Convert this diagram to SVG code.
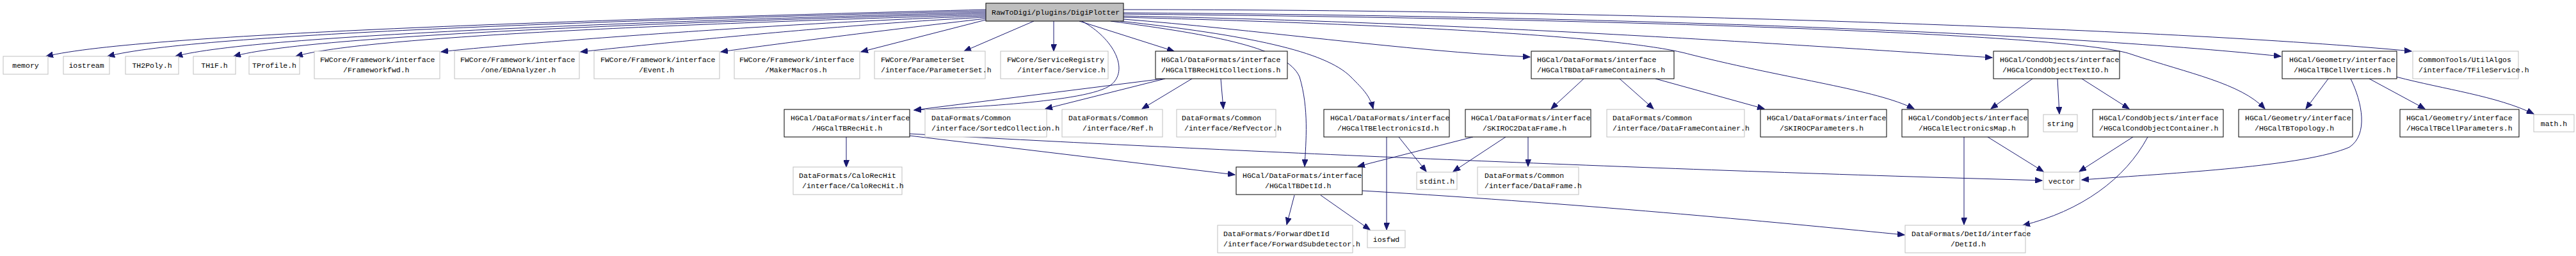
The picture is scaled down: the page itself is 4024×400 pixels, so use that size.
<svg xmlns="http://www.w3.org/2000/svg" width="4024" height="400" viewBox="0 0 4024 400">
<style>
rect{fill:#fff;stroke:#bfbfbf;stroke-width:1}
.b rect{stroke:#000}
.root rect{fill:#bfbfbf;stroke:#000}
text{font-family:"Liberation Mono","DejaVu Sans Mono",monospace;font-size:11.5px;fill:#000}
.c{text-anchor:middle}
#edges path{fill:none;stroke:#191970;stroke-width:1;marker-end:url(#a)}
</style>
<defs>
<marker id="a" markerUnits="userSpaceOnUse" markerWidth="12" markerHeight="9" refX="11" refY="4.5" orient="auto"><path d="M0,0 L11,4.5 L0,9 z" fill="#191970" stroke="#191970" stroke-width="1"/></marker>
</defs>
<rect x="0" y="0" width="4024" height="400" style="fill:#fff;stroke:none"/>
<g id="edges">
<path d="M1540,15 C953,30 219,52 72,88"/>
<path d="M1540,17 C991,31 305,52 168,88"/>
<path d="M1540,19 C1034,33 401,54 274,88"/>
<path d="M1540,21 C1070,34 483,55 365,88"/>
<path d="M1540,23 C1109,36 570,56 462,88"/>
<path d="M1540,25 C1200,36 760,72 689,81"/>
<path d="M1540,27 C1320,37 970,74 907,81"/>
<path d="M1540,29 C1400,45 1200,70 1126,81"/>
<path d="M1540,31 L1345,81"/>
<path d="M1615,33 L1506,80"/>
<path d="M1646,33 L1646,80"/>
<path d="M1686,33 L1834,80"/>
<path d="M1690,33 C1740,60 1765,110 1735,133 C1700,160 1500,168 1428,172"/>
<path d="M1735,33 C1900,55 2010,75 2030,120 C2045,170 2040,220 2038,260"/>
<path d="M1750,33 C1950,55 2070,80 2110,120 C2130,140 2140,150 2145,170"/>
<path d="M1755,30 C1950,45 2200,80 2390,89"/>
<path d="M1755,27 C2250,40 2550,60 2640,85 C2800,125 2930,140 2990,170"/>
<path d="M1755,25 C2300,35 2800,70 3112,90"/>
<path d="M1755,22 C2600,30 3250,55 3330,85 C3420,115 3500,130 3538,170"/>
<path d="M1755,20 C2500,25 3200,50 3563,88"/>
<path d="M1755,15 C2500,15 3400,45 3767,80"/>
<path d="M1817,123 L1428,172"/>
<path d="M1820,123 L1633,170"/>
<path d="M1862,123 L1784,170"/>
<path d="M1907,123 L1911,170"/>
<path d="M1322,214 L1322,261"/>
<path d="M1421,212 L1929,273"/>
<path d="M1421,209 C1800,230 2400,258 3018,277 L3190,282"/>
<path d="M2166,214 L2166,359"/>
<path d="M2185,214 L2228,268"/>
<path d="M2301,214 L2121,260"/>
<path d="M2352,214 L2270,268"/>
<path d="M2387,214 L2387,260"/>
<path d="M2474,123 L2423,170"/>
<path d="M2530,123 L2583,170"/>
<path d="M2586,123 L2756,170"/>
<path d="M2022,305 L2010,351"/>
<path d="M2063,305 L2140,359"/>
<path d="M2128,298 C2500,320 2800,350 2975,367"/>
<path d="M3068,214 L3068,351"/>
<path d="M3105,214 L3192,268"/>
<path d="M3175,123 L3110,170"/>
<path d="M3214,123 L3217,178"/>
<path d="M3252,123 L3326,170"/>
<path d="M3332,214 L3248,268"/>
<path d="M3355,214 C3320,280 3250,330 3160,352"/>
<path d="M3637,123 L3602,170"/>
<path d="M3672,123 C3690,160 3700,210 3670,230 C3600,260 3400,270 3252,281"/>
<path d="M3701,123 L3788,170"/>
<path d="M3743,120 C3820,140 3900,150 3958,178"/>
</g>
<g id="n_root" class="root"><rect x="1540" y="5" width="215" height="28"/><text x="1549" y="23">RawToDigi/plugins/DigiPlotter</text></g>
<g id="n_memory"><rect x="5" y="88" width="70" height="28"/><text class="c" x="40" y="106">memory</text></g>
<g id="n_iostream"><rect x="99" y="88" width="72" height="28"/><text class="c" x="135" y="106">iostream</text></g>
<g id="n_th2poly"><rect x="196" y="88" width="83" height="28"/><text class="c" x="237.5" y="106">TH2Poly.h</text></g>
<g id="n_th1f"><rect x="302" y="88" width="66" height="28"/><text class="c" x="335" y="106">TH1F.h</text></g>
<g id="n_tprofile"><rect x="389" y="88" width="79" height="28"/><text class="c" x="428.5" y="106">TProfile.h</text></g>
<g id="n_fwfwd"><rect x="491" y="80" width="196" height="43"/><text x="500" y="97">FWCore/Framework/interface</text><text x="536" y="113">/Frameworkfwd.h</text></g>
<g id="n_edanalyzer"><rect x="710" y="80" width="195" height="43"/><text x="719" y="97">FWCore/Framework/interface</text><text x="751" y="113">/one/EDAnalyzer.h</text></g>
<g id="n_event"><rect x="928" y="80" width="196" height="43"/><text x="938" y="97">FWCore/Framework/interface</text><text x="998" y="113">/Event.h</text></g>
<g id="n_makermacros"><rect x="1147" y="80" width="196" height="43"/><text x="1155" y="97">FWCore/Framework/interface</text><text x="1195" y="113">/MakerMacros.h</text></g>
<g id="n_parameterset"><rect x="1366" y="80" width="173" height="43"/><text x="1376" y="97">FWCore/ParameterSet</text><text x="1376" y="113">/interface/ParameterSet.h</text></g>
<g id="n_service"><rect x="1563" y="80" width="168" height="43"/><text x="1573" y="97">FWCore/ServiceRegistry</text><text x="1589" y="113">/interface/Service.h</text></g>
<g id="n_rechitcoll" class="b"><rect x="1805" y="80" width="206" height="43"/><text x="1814" y="97">HGCal/DataFormats/interface</text><text x="1814" y="113">/HGCalTBRecHitCollections.h</text></g>
<g id="n_dfcontainers" class="b"><rect x="2392" y="80" width="223" height="43"/><text x="2401" y="97">HGCal/DataFormats/interface</text><text x="2401" y="113">/HGCalTBDataFrameContainers.h</text></g>
<g id="n_textio" class="b"><rect x="3114" y="80" width="197" height="43"/><text x="3124" y="97">HGCal/CondObjects/interface</text><text x="3128" y="113">/HGCalCondObjectTextIO.h</text></g>
<g id="n_cellvertices" class="b"><rect x="3565" y="80" width="179" height="43"/><text x="3576" y="97">HGCal/Geometry/interface</text><text x="3583" y="113">/HGCalTBCellVertices.h</text></g>
<g id="n_tfileservice"><rect x="3769" y="80" width="165" height="43"/><text x="3778" y="97">CommonTools/UtilAlgos</text><text x="3778" y="113">/interface/TFileService.h</text></g>
<g id="n_rechit" class="b"><rect x="1225" y="171" width="196" height="43"/><text x="1235" y="188">HGCal/DataFormats/interface</text><text x="1268" y="204">/HGCalTBRecHit.h</text></g>
<g id="n_sortedcoll"><rect x="1445" y="171" width="190" height="43"/><text x="1455" y="188">DataFormats/Common</text><text x="1455" y="204">/interface/SortedCollection.h</text></g>
<g id="n_ref"><rect x="1659" y="171" width="157" height="43"/><text x="1669" y="188">DataFormats/Common</text><text x="1691" y="204">/interface/Ref.h</text></g>
<g id="n_refvector"><rect x="1838" y="171" width="155" height="43"/><text x="1846" y="188">DataFormats/Common</text><text x="1850" y="204">/interface/RefVector.h</text></g>
<g id="n_elecid" class="b"><rect x="2068" y="171" width="196" height="43"/><text x="2078" y="188">HGCal/DataFormats/interface</text><text x="2089" y="204">/HGCalTBElectronicsId.h</text></g>
<g id="n_skiroc2" class="b"><rect x="2289" y="171" width="196" height="43"/><text x="2298" y="188">HGCal/DataFormats/interface</text><text x="2316" y="204">/SKIROC2DataFrame.h</text></g>
<g id="n_dfcontainer"><rect x="2510" y="171" width="215" height="43"/><text x="2519" y="188">DataFormats/Common</text><text x="2519" y="204">/interface/DataFrameContainer.h</text></g>
<g id="n_skirocparams" class="b"><rect x="2750" y="171" width="197" height="43"/><text x="2760" y="188">HGCal/DataFormats/interface</text><text x="2780" y="204">/SKIROCParameters.h</text></g>
<g id="n_elecmap" class="b"><rect x="2971" y="171" width="197" height="43"/><text x="2981" y="188">HGCal/CondObjects/interface</text><text x="2997" y="204">/HGCalElectronicsMap.h</text></g>
<g id="n_string"><rect x="3192" y="179" width="53" height="27"/><text class="c" x="3218.5" y="197">string</text></g>
<g id="n_condcontainer" class="b"><rect x="3269" y="171" width="204" height="43"/><text x="3279" y="188">HGCal/CondObjects/interface</text><text x="3279" y="204">/HGCalCondObjectContainer.h</text></g>
<g id="n_topology" class="b"><rect x="3497" y="171" width="178" height="43"/><text x="3507" y="188">HGCal/Geometry/interface</text><text x="3522" y="204">/HGCalTBTopology.h</text></g>
<g id="n_cellparams" class="b"><rect x="3749" y="171" width="186" height="43"/><text x="3759" y="188">HGCal/Geometry/interface</text><text x="3759" y="204">/HGCalTBCellParameters.h</text></g>
<g id="n_math"><rect x="3958" y="179" width="63" height="27"/><text class="c" x="3989.5" y="197">math.h</text></g>
<g id="n_calorechit"><rect x="1239" y="261" width="170" height="43"/><text x="1248" y="278">DataFormats/CaloRecHit</text><text x="1253" y="294">/interface/CaloRecHit.h</text></g>
<g id="n_detidtb" class="b"><rect x="1931" y="261" width="197" height="43"/><text x="1941" y="278">HGCal/DataFormats/interface</text><text x="1976" y="294">/HGCalTBDetId.h</text></g>
<g id="n_stdint"><rect x="2213" y="269" width="63" height="27"/><text class="c" x="2244.5" y="287">stdint.h</text></g>
<g id="n_dataframe"><rect x="2308" y="261" width="158" height="43"/><text x="2319" y="278">DataFormats/Common</text><text x="2319" y="294">/interface/DataFrame.h</text></g>
<g id="n_vector"><rect x="3192" y="269" width="57" height="27"/><text class="c" x="3220.5" y="287">vector</text></g>
<g id="n_fwdsubdet"><rect x="1902" y="352" width="211" height="43"/><text x="1911" y="369">DataFormats/ForwardDetId</text><text x="1911" y="385">/interface/ForwardSubdetector.h</text></g>
<g id="n_iosfwd"><rect x="2136" y="360" width="59" height="27"/><text class="c" x="2165.5" y="378">iosfwd</text></g>
<g id="n_detid"><rect x="2976" y="352" width="188" height="43"/><text x="2986" y="369">DataFormats/DetId/interface</text><text x="3047" y="385">/DetId.h</text></g>
</svg>
